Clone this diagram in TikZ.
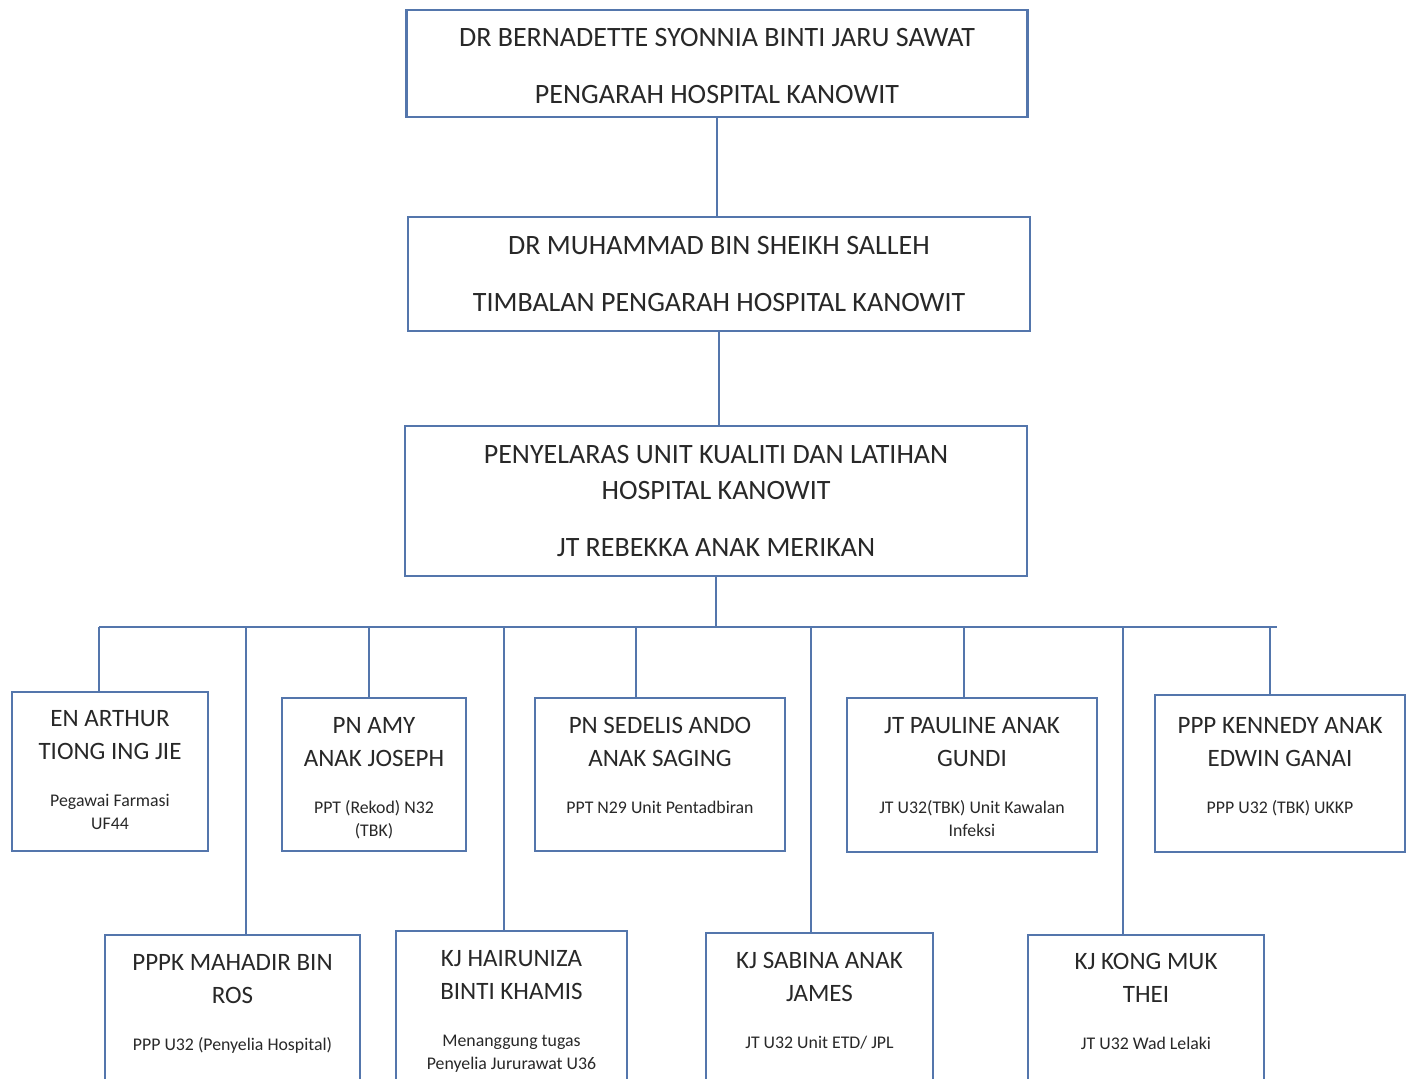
\documentclass[tikz,border=0pt]{standalone}
\usepackage{fontspec}
\setmainfont{Carlito}
\usetikzlibrary{positioning}
\definecolor{orgline}{RGB}{84,118,172}
\definecolor{orgtext}{RGB}{40,40,40}

\tikzset{
  card/.style={draw=orgline, line width=2.4pt, fill=white, inner sep=0pt, text=orgtext, align=center},
  persontext/.style={text=orgtext, align=center, inner sep=0pt, anchor=north, font=\fontsize{25}{33}\selectfont},
  link/.style={draw=orgline, line width=1.8pt},
}
\newcommand{\rolefont}{\fontsize{17.8}{23}\selectfont}

\begin{document}
\begin{tikzpicture}[x=1pt,y=-1pt]
\clip (0,0) rectangle (1409,1079);
\fill[white] (0,0) rectangle (1409,1079);

% pengarah, timbalan, penyelaras
\node[card, minimum width=621, minimum height=107] (dir) at (717,63.5) {};
\node[text=orgtext, align=center, inner sep=0pt, anchor=north, font=\fontsize{28}{34}\selectfont] (dirT)
  at ([yshift=-19]dir.north) {DR BERNADETTE SYONNIA BINTI JARU SAWAT\\[23pt]PENGARAH HOSPITAL KANOWIT};
\node[card, minimum width=622, minimum height=114, font=\fontsize{28}{34}\selectfont] (tdir) at (719,274)
  {DR MUHAMMAD BIN SHEIKH SALLEH\\[23pt]TIMBALAN PENGARAH HOSPITAL KANOWIT};
\node[card, minimum width=622, minimum height=150, font=\fontsize{28}{36}\selectfont] (kual) at (716,501)
  {PENYELARAS UNIT KUALITI DAN LATIHAN\\HOSPITAL KANOWIT\\[21pt]JT REBEKKA ANAK MERIKAN};

% upper row
\node[card, minimum width=196, minimum height=159] (arthur) at (110,771.5) {};
\node[card, minimum width=184, minimum height=153] (amy) at (374,774.5) {};
\node[card, minimum width=250, minimum height=153] (sedelis) at (660,774.5) {};
\node[card, minimum width=250, minimum height=154] (pauline) at (972,775) {};
\node[card, minimum width=250, minimum height=157] (kennedy) at (1280,773.5) {};

% lower row, cut off at the bottom
\node[card, anchor=north, minimum width=255, minimum height=170] (mahadir) at (232.5,934) {};
\node[card, anchor=north, minimum width=231, minimum height=170] (hairuniza) at (511.5,930) {};
\node[card, anchor=north, minimum width=227, minimum height=170] (sabina) at (819.5,932) {};
\node[card, anchor=north, minimum width=236, minimum height=170] (kong) at (1146,934) {};

% names and posts
\node[persontext] (arthurT) at ([yshift=-19]arthur.north)
  {EN ARTHUR\\TIONG ING JIE\\[14pt]{\rolefont Pegawai Farmasi}\\[-10pt]{\rolefont UF44}};
\node[persontext] (amyT) at ([yshift=-20]amy.north)
  {PN AMY\\ANAK JOSEPH\\[14pt]{\rolefont PPT (Rekod) N32}\\[-10pt]{\rolefont (TBK)}};
\node[persontext] (sedelisT) at ([yshift=-20]sedelis.north)
  {PN SEDELIS ANDO\\ANAK SAGING\\[14pt]{\rolefont PPT N29 Unit Pentadbiran}};
\node[persontext] (paulineT) at ([yshift=-20]pauline.north)
  {JT PAULINE ANAK\\GUNDI\\[14pt]{\rolefont JT U32(TBK) Unit Kawalan}\\[-10pt]{\rolefont Infeksi}};
\node[persontext] (kennedyT) at ([yshift=-23]kennedy.north)
  {PPP KENNEDY ANAK\\EDWIN GANAI\\[14pt]{\rolefont PPP U32 (TBK) UKKP}};
\node[persontext] (mahadirT) at ([yshift=-20]mahadir.north)
  {PPPK MAHADIR BIN\\ROS\\[14pt]{\rolefont PPP U32 (Penyelia Hospital)}};
\node[persontext] (hairunizaT) at ([yshift=-20]hairuniza.north)
  {KJ HAIRUNIZA\\BINTI KHAMIS\\[14pt]{\rolefont Menanggung tugas}\\[-10pt]{\rolefont Penyelia Jururawat U36}};
\node[persontext] (sabinaT) at ([yshift=-20]sabina.north)
  {KJ SABINA ANAK\\JAMES\\[14pt]{\rolefont JT U32 Unit ETD/ JPL}};
\node[persontext] (kongT) at ([yshift=-19]kong.north)
  {KJ KONG MUK\\THEI\\[14pt]{\rolefont JT U32 Wad Lelaki}};

% connectors
\draw[link] (dir.south) -- (dir.south |- tdir.north);
\draw[link] (tdir.south) -- (tdir.south |- kual.north);
\coordinate (busL) at (99,627);
\coordinate (busR) at (1277,627);
\draw[link] (kual.south) -- (kual.south |- busL);
\draw[link] (busL) -- (busR);
\foreach \n/\x in {arthur/99, mahadir/246, amy/369, hairuniza/504, sedelis/636,
                   sabina/811, pauline/964, kong/1123, kennedy/1270} {
  \coordinate (d\n) at (\x,627);
  \draw[link] (d\n) -- (d\n |- \n.north);
}
\end{tikzpicture}
\end{document}
